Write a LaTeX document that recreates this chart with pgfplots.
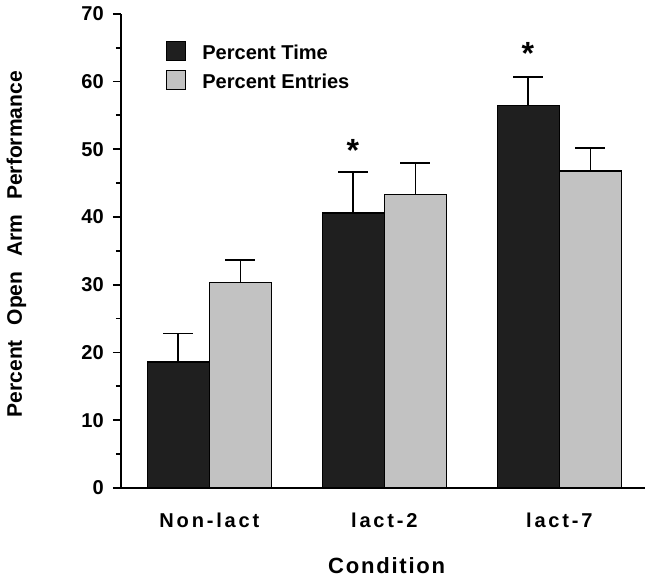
\documentclass[border=0pt]{standalone}
\usepackage{pgfplots}
\pgfplotsset{compat=1.18}
\usepackage{fontspec}
\setmainfont{Liberation Sans}
\newfontfamily\spaced[LetterSpace=14]{Liberation Sans}
\newfontfamily\spacedb[LetterSpace=8]{Liberation Sans}
\definecolor{stip}{gray}{0.76}
\begin{document}
\begin{tikzpicture}
\begin{axis}[
  scale only axis,
  width=261.5pt, height=236.5pt,
  ybar=0pt, bar width=31pt,
  xmin=-0.506, xmax=2.49,
  ymin=0, ymax=70,
  axis x line*=bottom, axis y line*=left,
  axis line style={line width=0.9pt},
  xtick={0,1,2},
  xticklabels={{\spaced\bfseries Non-lact},{\spaced\bfseries lact-2},{\spaced\bfseries lact-7}},
  major x tick style={draw=none},
  xticklabel style={yshift=-5pt, font=\fontsize{10}{12}\selectfont},
  ytick={0,10,...,70},
  minor ytick={5,15,...,65},
  tick align=outside,
  major tick length=4pt, minor tick length=2.5pt,
  every tick/.style={line width=0.9pt, black},
  yticklabel style={font=\fontsize{10}{12}\selectfont\bfseries, /pgf/number format/assume math mode=true, xshift=-1pt},
  ylabel={\bfseries Percent\hspace{0.7em}Open\hspace{0.7em}Arm\hspace{0.7em}Performance},
  ylabel style={at={(axis description cs:-0.199,0.514)}, anchor=center, font=\fontsize{10.5}{12}\selectfont},
  xlabel={\spacedb\bfseries Condition},
  xlabel style={at={(axis description cs:0.507,-0.163)}, anchor=center, font=\fontsize{11}{13}\selectfont},
  legend style={draw=none, fill=none, at={(axis description cs:0.074,0.952)}, anchor=north west,
    font=\fontsize{10}{12}\selectfont\bfseries, row sep=1.5pt, cells={anchor=west},
    /tikz/every odd column/.append style={column sep=6pt}},
  legend image code/.code={\draw[#1, draw=black] (0pt,-3.2pt) rectangle (9.5pt,6.3pt);},
  error bars/y dir=plus, error bars/y explicit,
  error bars/error bar style={line width=0.9pt, black},
  error bars/error mark options={rotate=90, mark size=7.5pt, line width=0.9pt, black},
]
\addplot[fill=black!88, draw=black, line width=0.6pt] coordinates {
  (0,18.6) +- (0,4.2)
  (1,40.6) +- (0,6.0)
  (2,56.4) +- (0,4.3)
};
\addplot[fill=stip, draw=black, line width=0.6pt] coordinates {
  (0,30.3) +- (0,3.3)
  (1,43.3) +- (0,4.7)
  (2,46.8) +- (0,3.4)
};
\legend{Percent Time, Percent Entries}
\node[font=\fontsize{16}{16}\selectfont\bfseries] at (axis cs:0.82,49.8) {*};
\node[font=\fontsize{16}{16}\selectfont\bfseries] at (axis cs:1.82,64.2) {*};
\end{axis}
\end{tikzpicture}
\end{document}
